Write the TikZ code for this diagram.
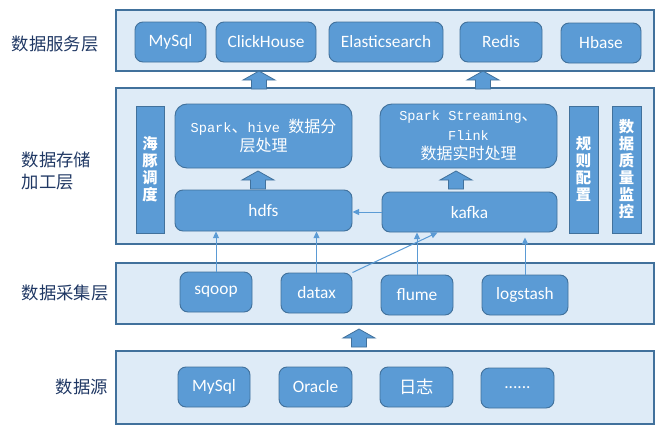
\documentclass[tikz,border=0pt]{standalone}
\usepackage{fontspec}
\setmainfont{Carlito}
\newfontfamily\cjk{Noto Sans CJK SC}
\newfontfamily\monofnt{Liberation Mono}[Scale=0.85]
\usetikzlibrary{arrows.meta, positioning, calc}

\definecolor{layerfill}{HTML}{DEEBF7}
\definecolor{layerline}{HTML}{41719C}
\definecolor{boxfill}{HTML}{5B9BD5}
\definecolor{labelblue}{HTML}{203864}

\tikzset{
  layer/.style={draw=layerline, fill=layerfill, line width=0.9pt},
  sz/.style n args={2}{minimum width=#1*0.75pt, minimum height=#2*0.75pt},
  box/.style={draw=layerline, fill=boxfill, line width=0.7pt, rounded corners=6pt,
    text=white, inner sep=0pt, align=center, font=\fontsize{13}{15}\selectfont},
  bigbox/.style={box, rounded corners=9pt, font=\fontsize{12}{14.5}\selectfont},
  vbox/.style={box, rounded corners=0pt, font=\cjk\bfseries\fontsize{11.5}{12.75}\selectfont},
  flow/.style={draw=boxfill, line width=0.75pt, -{Triangle[length=5pt,width=4.5pt]}},
  lname/.style={anchor=west, text=labelblue, align=left, font=\cjk\fontsize{13}{16.5}\selectfont},
  uparrow/.pic={\draw[layerline, fill=boxfill, line width=0.6pt]
    (-7.5,0) -- (-7.5,-9) -- (-16,-9) -- (0,-18) -- (16,-9) -- (7.5,-9) -- (7.5,0) -- cycle;}
}

\begin{document}
\begin{tikzpicture}[x=0.75pt, y=-0.75pt]
\useasboundingbox (0,0) rectangle (670,437);

% layers
\draw[layer] (116,10) rectangle (654,71);
\draw[layer] (116,88) rectangle (654,244);
\draw[layer] (116,263) rectangle (654,324);
\draw[layer] (116,351) rectangle (654,424);

% layer names
\node[lname] (nserve) at (7,44) {数据服务层};
\node[lname] (nstore) at (17,171) {数据存储\\加工层};
\node[lname] (ncollect) at (17,293) {数据采集层};
\node[lname] (nsource) at (51,387) {数据源};

% arrows between layers
\pic at (259,89) {uparrow};
\pic at (483,89) {uparrow};
\pic at (258,189) {uparrow};
\pic at (456,189) {uparrow};
\pic at (359,347) {uparrow};

% service layer
\node[box, sz={71}{40}] (mysqls) at (170.5,42) {MySql};
\node[box, sz={100}{40}] (clickhouse) at (266,42) {ClickHouse};
\node[box, sz={114}{40}] (elastic) at (386,42) {Elasticsearch};
\node[box, sz={82}{40}] (redis) at (501,42) {Redis};
\node[box, sz={80}{40}] (hbase) at (601,43) {Hbase};

% storage and processing layer
\node[vbox, sz={28}{127}] (dolphin) at (150,169.5) {海\\豚\\调\\度};
\node[bigbox, sz={177}{64}] (sparkhive) at (263.5,136)
  {{\monofnt Spark}{\cjk 、}{\monofnt hive }{\cjk 数据分}\\{\cjk 层处理}};
\node[bigbox, sz={177}{64}] (sparkstream) at (468.5,136)
  {{\monofnt Spark Streaming}{\cjk 、}\\{\monofnt Flink}\\{\cjk 数据实时处理}};
\node[box, sz={177}{41}] (hdfs) at (263.5,210.5) {hdfs};
\node[box, sz={175}{40}] (kafka) at (469.5,212) {kafka};
\node[vbox, sz={29}{127}] (rules) at (583.5,169.5) {规\\则\\配\\置};
\node[vbox, sz={29}{127}] (quality) at (626.5,169.5) {数\\据\\质\\量\\监\\控};

% collection layer
\node[box, sz={72}{40}] (sqoop) at (216,292) {sqoop};
\node[box, sz={71}{40}] (datax) at (316.5,293) {datax};
\node[box, sz={72}{40}] (flume) at (417,295) {flume};
\node[box, sz={86}{40}] (logstash) at (525,295) {logstash};

% data sources
\node[box, sz={72}{40}] (mysqld) at (214,387) {MySql};
\node[box, sz={73}{40}] (oracle) at (315.5,387) {Oracle};
\node[box, sz={73}{40}] (rizhi) at (416.5,387) {\cjk 日志};
\node[box, sz={73}{40}] (more) at (517.5,388) {......};

% flows
\draw[flow] (kafka.west) -- (kafka.west -| hdfs.east);
\draw[flow] (sqoop) -- (sqoop |- hdfs.south);
\draw[flow] (datax) -- (datax |- hdfs.south);
\draw[flow] (datax.north east) -- ($(kafka.south west)+(56,0)$);
\draw[flow] (flume) -- (flume |- kafka.south);
\draw[flow] (logstash) -- ($(logstash |- kafka.south)+(0,5)$);
\end{tikzpicture}
\end{document}
